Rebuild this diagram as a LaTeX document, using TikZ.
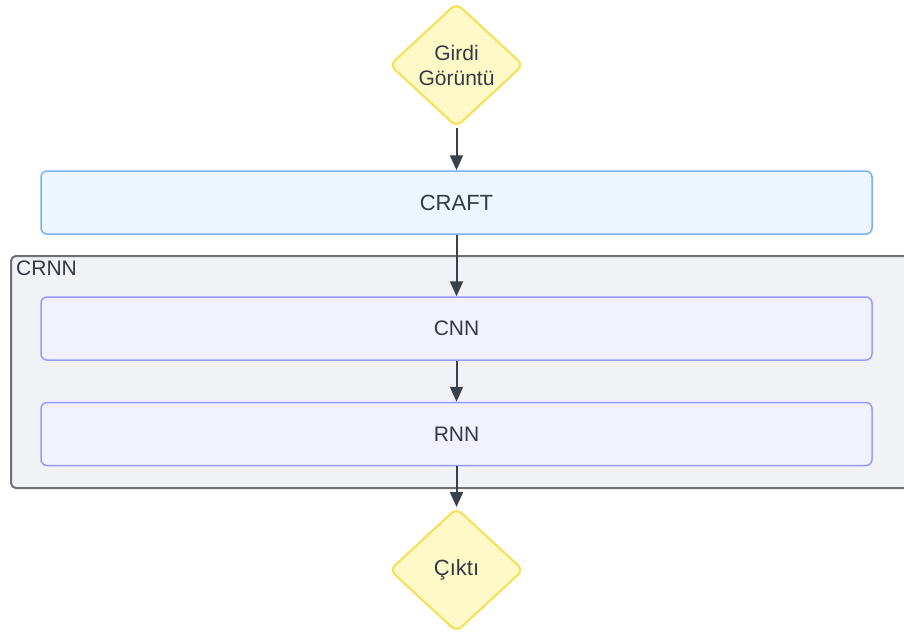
\documentclass[tikz,border=0pt]{standalone}
\usepackage{fontspec}
\setmainfont{Liberation Sans}
\usetikzlibrary{shapes.geometric,arrows.meta}

\definecolor{inkc}{HTML}{333A45}
\definecolor{linec}{HTML}{3A414A}
\definecolor{decfill}{HTML}{FFF9C7}
\definecolor{decdraw}{HTML}{F7DE52}
\definecolor{craftfill}{HTML}{EDF5FF}
\definecolor{craftdraw}{HTML}{78B1F7}
\definecolor{subfill}{HTML}{F1F1FF}
\definecolor{subdraw}{HTML}{9A9AFF}
\definecolor{groupfill}{HTML}{F1F2F5}
\definecolor{groupdraw}{HTML}{6E7178}

\begin{document}
\begin{tikzpicture}[x=1pt,y=-1pt,
  every node/.style={text=inkc, font=\fontsize{21}{25}\selectfont},
  decision/.style={diamond, draw=decdraw, fill=decfill, line width=2pt,
    rounded corners=7pt, inner sep=0pt, minimum width=134pt, minimum height=124pt,
    align=center, text width=80pt},
  stage/.style={rectangle, rounded corners=6pt, line width=1.5pt,
    minimum width=831pt, minimum height=63pt, inner sep=0pt},
  craftbox/.style={stage, draw=craftdraw, fill=craftfill, font=\fontsize{22}{26}\selectfont},
  subbox/.style={stage, draw=subdraw, fill=subfill},
  groupbox/.style={rectangle, rounded corners=5pt, line width=2pt,
    draw=groupdraw, fill=groupfill, inner sep=0pt, anchor=north west},
  arr/.style={draw=linec, line width=2pt, -{Triangle[length=15pt,width=13pt]}}
]
\useasboundingbox (0,0) rectangle (904,633);
\clip (0,0) rectangle (904,633);
\fill[white] (0,0) rectangle (904,633);

% CRNN container (runs past the right edge)
\node[groupbox, minimum width=915pt, minimum height=232pt] (crnn) at (10,255) {};
\node[anchor=north west, inner sep=0pt] (crnnlabel) at (16,261) {CRNN};

% Decisions
\node[decision] (girdi) at (456.5,65) {Girdi\\Görüntü};
\node[decision] (cikti) at (456.5,570) {\fontsize{22}{26}\selectfont Çıktı};

% Stages
\node[craftbox] (craft) at (456.5,202.5) {CRAFT};
\node[subbox] (cnn) at (456.5,328.5) {CNN};
\node[subbox] (rnn) at (456.5,434) {RNN};

% Flow
\draw[arr] (girdi.south) -- (craft.north);
\draw[arr] (craft.south) -- (cnn.north);
\draw[arr] (cnn.south) -- (rnn.north);
\draw[arr] (rnn.south) -- (cikti.north);
\end{tikzpicture}
\end{document}
